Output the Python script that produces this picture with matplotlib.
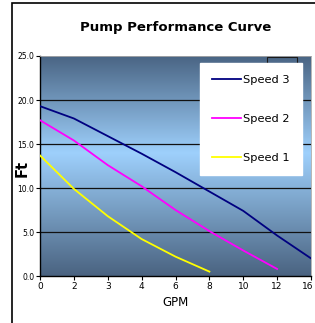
import numpy as np
import matplotlib.pyplot as plt
import matplotlib.transforms as mtransforms
from matplotlib.colors import LinearSegmentedColormap

gpm = ['0', '2', '3', '4', '6', '8', '10', '12', '16']
speed3 = [19.3, 17.9, 15.9, 13.9, 11.8, 9.6, 7.4, 4.6, 2.0]
speed2 = [17.7, 15.4, 12.6, 10.2, 7.5, 5.1, 2.9, 0.8]
speed1 = [13.7, 9.9, 6.8, 4.2, 2.2, 0.5]

plt.rcParams['font.family'] = ['DejaVu Sans']

fig = plt.figure(figsize=(3.15, 3.23), dpi=100)
# outer chart frame (only left and top visible in the crop)
fig.patches.append(plt.Rectangle((12/315, -0.1), 1.2, 1 - 3/323 + 0.1, transform=fig.transFigure,
                                 fill=False, edgecolor='black', linewidth=1.2))

ax = fig.add_axes([40/315, 1 - 276/323, 271/315, 220/323])

# vertical gradient background
cmap = LinearSegmentedColormap.from_list('bg', [(0, '#4a6380'), (0.56, '#9ed0fc'), (1, '#4a6584')])
grad = np.linspace(0, 1, 256).reshape(-1, 1)
ax.imshow(grad, cmap=cmap, extent=[0, len(gpm) - 1, 0, 25], origin='lower',
          aspect='auto', zorder=0)

for v in [5, 10, 15, 20]:
    ax.axhline(v, color='#111111', linewidth=0.9, zorder=1)

x = np.arange(len(gpm))
l3, = ax.plot(x[:len(speed3)], speed3, color='#000080', linewidth=1.3, zorder=3)
l2, = ax.plot(x[:len(speed2)], speed2, color='#ff00ff', linewidth=1.3, zorder=3)
l1, = ax.plot(x[:len(speed1)], speed1, color='#ffff00', linewidth=1.3, zorder=3)

# stray dark box peeking out behind the legend
ax.add_patch(plt.Rectangle((0.838, 0.80), 0.11, 0.195, transform=ax.transAxes,
                           fill=False, edgecolor='#1a1a1a', linewidth=0.8, zorder=4))

ax.set_xlim(0, len(gpm) - 1)
ax.set_ylim(0, 25)
ax.set_xticks(x)
ax.set_xticklabels(gpm, fontsize=6.5)
ax.set_yticks([0, 5, 10, 15, 20, 25])
ax.set_yticklabels(['0.0', '5.0', '10.0', '15.0', '20.0', '25.0'], fontsize=5.5)
ax.tick_params(axis='both', length=3, width=0.8, pad=1, direction='out')

# keep the last x label inside the picture
last = ax.get_xticklabels()[-1]
last.set_transform(last.get_transform() + mtransforms.ScaledTranslation(-3/100, 0, fig.dpi_scale_trans))

for s in ['top', 'right']:
    ax.spines[s].set_color('#aaaaaa')
    ax.spines[s].set_linewidth(0.6)
for s in ['left', 'bottom']:
    ax.spines[s].set_linewidth(1.0)

ax.set_xlabel('GPM', fontsize=8.5, labelpad=4)
ax.set_ylabel('Ft', fontsize=10.5, fontweight='bold')
ax.yaxis.set_label_coords(-10/271, 0.49)
ax.set_title('Pump Performance Curve', fontsize=9.5, fontweight='bold', pad=18)

leg = ax.legend([l3, l2, l1], ['Speed 3', 'Speed 2', 'Speed 1'], loc='upper right',
                bbox_to_anchor=(0.965, 0.968), fontsize=8.2, frameon=True, fancybox=False,
                handlelength=2.5, handletextpad=0.2, labelspacing=2.55, borderpad=1.05,
                borderaxespad=0)
leg.get_frame().set_edgecolor('white')
leg.get_frame().set_alpha(1)
leg.set_zorder(5)

fig.savefig('out.png', dpi=100)
